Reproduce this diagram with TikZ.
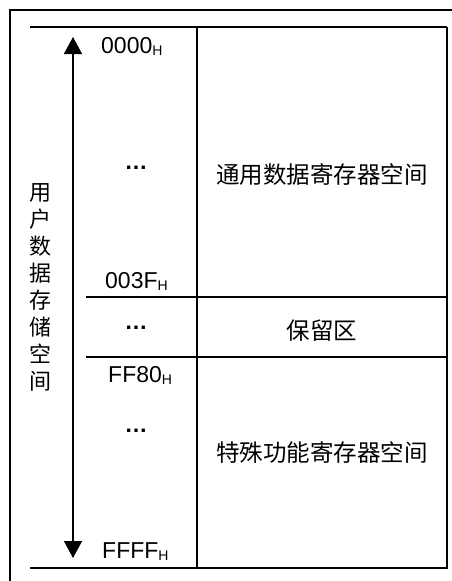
\documentclass[tikz,border=0pt]{standalone}
\usepackage{fontspec}
\setmainfont{Liberation Sans}
\newfontfamily\cjk{Noto Sans CJK SC}
\usetikzlibrary{arrows.meta}
\newcommand{\subH}{\raisebox{-2pt}{\fontsize{14}{14}\selectfont H}}
\begin{document}
\begin{tikzpicture}[x=1pt,y=-1pt,
  frame/.style={line width=2pt},
  gridline/.style={line width=1.4pt},
  shadowline/.style={line width=2pt},
  addr/.style={anchor=base west,inner sep=0pt,font=\fontsize{23}{26}\selectfont},
  dotsnode/.style={anchor=base,inner sep=0pt,font=\bfseries\fontsize{23}{26}\selectfont},
  zh/.style={inner sep=0pt,font=\cjk\fontsize{23.5}{26}\selectfont},
  vzh/.style={inner sep=0pt,align=center,font=\cjk\fontsize{22}{27}\selectfont},
  rangearrow/.style={line width=1.5pt,{Triangle[length=17pt,width=18pt]}-{Triangle[length=17pt,width=18pt]}}]
\useasboundingbox (0,0) rectangle (452,581);
% outer frame
\draw[frame] (452,10) -- (10,10) -- (10,581);
% table
\draw[gridline] (30,27) -- (447,27);
\draw[gridline] (197,27) -- (197,568);
\draw[shadowline] (447,27) -- (447,569);
\draw[shadowline] (30,568) -- (448,568);
\draw[gridline] (86,297) -- (447,297);
\draw[gridline] (86,357) -- (447,357);
% range arrow
\coordinate (top) at (73,37);
\coordinate (bot) at (73,558);
\draw[rangearrow] (top) -- (bot);
% side label
\node[vzh] (side) at (40,287) {用\\户\\数\\据\\存\\储\\空\\间};
% addresses
\node[addr] (a0) at (101,53) {0000\subH};
\node[addr] (a1) at (105,288) {003F\subH};
\node[addr] (a2) at (108,382) {FF80\subH};
\node[addr] (a3) at (102,558) {FFFF\subH};
% dots
\node[dotsnode] (d0) at (136,169) {…};
\node[dotsnode] (d1) at (136,329) {…};
\node[dotsnode] (d2) at (136,432) {…};
% region names
\node[zh] (r0) at (322,175) {通用数据寄存器空间};
\node[zh] (r1) at (322,331) {保留区};
\node[zh] (r2) at (322,453) {特殊功能寄存器空间};
\end{tikzpicture}
\end{document}
